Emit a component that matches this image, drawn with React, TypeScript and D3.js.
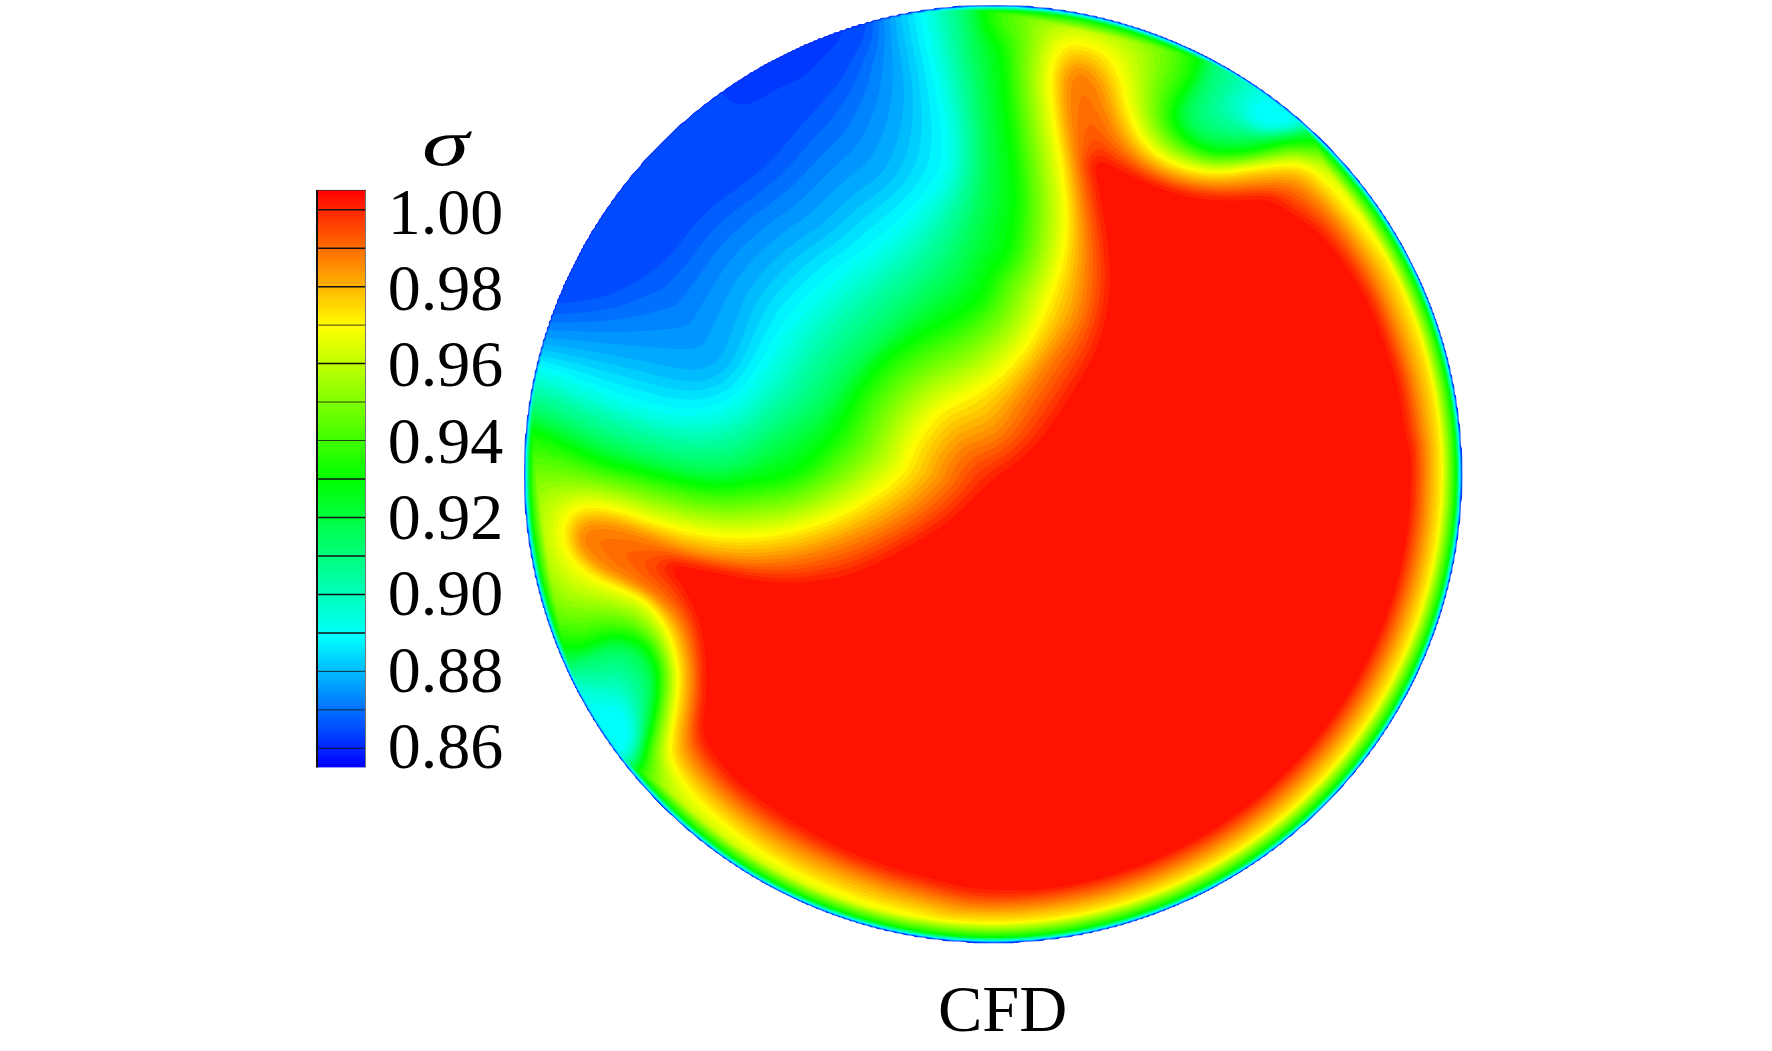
import React, { useMemo } from "react";
import * as d3 from "d3";

const WIDTH = 1772;
const HEIGHT = 1051;

// pipe section, in picture pixels
const CENTER = [993, 474];
const RADIUS = 468.5;

const tickValues = [1.0, 0.98, 0.96, 0.94, 0.92, 0.9, 0.88, 0.86];
const thinLines = [0.97, 0.95, 0.94, 0.88, 0.87, 0.86];
const contourLines = d3.range(0, 15).map((i) => +(0.86 + i * 0.01).toFixed(2));

// colour map of the legend
const colorStops = [0.855, 0.889, 0.93, 0.9695, 1.005];
const colorNames = ["#0000ff", "#00ffff", "#00ff00", "#ffff00", "#ff0000"];

// sigma against distance from the wall (thin boundary layer)
const wallDistance = [0, 1.5, 5.5, 20, 52, 70];
const wallSigma = [0.855, 0.889, 0.93, 0.9695, 1.002, 1.002];

// traced iso-lines, each closed around the region where sigma is above the level.
// where a line leaves the section it runs round the outside of the wall.
const level862 = [[730,75],[745,92],[773,80],[800,70],[817,53],[837,32],[835,-10],[830,-170],[1720,-170],[1720,474],[1720,1170],[1000,1170],[330,1170],[330,474],[640,30]];
const level865 = [[535,303],[558,305],[603,297],[637,280],[670,253],[703,213],[737,187],[770,160],[803,120],[837,83],[853,57],[867,27],[860,-30],[870,-110],[1650,-110],[1650,474],[1650,1110],[1000,1110],[380,1110],[380,474],[500,300]];
const level878 = [[520,345],[547,347],[587,353],[637,363],[680,373],[707,373],[727,357],[737,330],[753,290],[787,253],[820,230],[853,200],[887,173],[903,133],[907,93],[903,60],[897,27],[895,-25],[900,-80],[1600,-80],[1600,474],[1600,1060],[1000,1060],[420,1060],[420,474],[500,340]];
const level889 = [[515,365],[543,370],[570,380],[603,393],[637,405],[670,413],[703,413],[737,400],[763,367],[780,340],[803,310],[837,277],[870,253],[897,230],[920,207],[937,187],[947,167],[948,133],[942,100],[935,67],[928,33],[925,13],[920,-20],[1100,-40],[1280,70],[1262,100],[1250,112],[1265,128],[1295,126],[1315,110],[1360,110],[1450,190],[1530,474],[1420,860],[1000,1000],[690,900],[585,775],[618,758],[628,748],[632,730],[622,708],[605,705],[578,698],[470,620],[465,474],[490,365]];
const level915 = [[505,410],[530,415],[553,423],[620,450],[720,470],[787,433],[820,410],[853,367],[887,333],[920,303],[953,270],[977,217],[985,167],[982,100],[973,33],[970,10],[970,-20],[1100,-25],[1205,35],[1203,75],[1187,113],[1200,133],[1227,140],[1267,137],[1300,132],[1335,125],[1380,125],[1450,190],[1510,474],[1410,840],[1000,985],[700,890],[605,790],[632,768],[640,757],[648,720],[652,690],[648,670],[633,652],[613,647],[593,653],[577,658],[545,660],[490,560],[480,430]];
const level930 = [[505,425],[537,433],[570,448],[603,463],[640,472],[687,483],[720,487],[753,483],[787,477],[810,463],[833,440],[850,410],[863,387],[887,360],[920,337],[953,320],[980,300],[993,273],[1010,250],[1017,200],[1013,150],[1007,100],[1002,50],[990,33],[983,7],[983,-15],[1100,-15],[1190,20],[1197,57],[1193,77],[1177,100],[1173,120],[1187,140],[1210,152],[1240,153],[1267,148],[1293,142],[1317,142],[1345,130],[1420,190],[1490,474],[1400,820],[1000,970],[720,880],[630,810],[615,790],[640,767],[645,747],[653,720],[658,690],[657,667],[647,647],[627,637],[603,638],[583,647],[563,645],[535,640],[495,560],[490,430]];
const level970 = [[1000,377],[1030,343],[1050,300],[1063,260],[1068,217],[1063,167],[1055,117],[1052,73],[1063,48],[1083,45],[1107,57],[1120,80],[1128,110],[1140,137],[1160,157],[1187,168],[1217,172],[1250,168],[1277,165],[1300,165],[1320,177],[1343,203],[1367,233],[1393,270],[1413,317],[1430,367],[1440,427],[1442,480],[1423,630],[1317,797],[1150,903],[1000,928],[920,915],[853,897],[787,867],[737,833],[700,800],[677,770],[670,750],[675,710],[678,677],[672,643],[660,617],[643,598],[620,587],[593,575],[573,557],[565,533],[573,513],[593,507],[620,512],[653,523],[693,533],[737,538],[787,533],[837,517],[873,497],[903,473],[917,443],[940,413],[970,397]];
const level985 = [[1000,430],[1020,400],[1050,357],[1077,317],[1085,267],[1083,217],[1075,160],[1068,110],[1070,77],[1083,72],[1097,87],[1107,113],[1120,140],[1143,163],[1173,178],[1207,185],[1240,185],[1277,182],[1300,187],[1327,210],[1353,243],[1377,283],[1397,330],[1413,380],[1422,430],[1425,480],[1406,624],[1304,785],[1143,887],[1000,908],[920,895],[853,873],[787,842],[737,807],[700,770],[687,743],[690,710],[692,677],[687,643],[675,617],[653,597],[630,583],[607,570],[587,553],[580,537],[590,527],[613,527],[647,537],[687,552],[737,560],[787,558],[837,545],[880,527],[913,507],[943,480],[947,467],[963,447],[980,440]];
const level1002 = [[1097,163],[1133,177],[1167,190],[1200,198],[1233,200],[1267,200],[1287,213],[1317,233],[1343,263],[1367,300],[1383,340],[1397,383],[1405,430],[1412,480],[1392,619],[1293,774],[1138,872],[1000,890],[920,875],[853,853],[787,817],[737,780],[710,747],[702,727],[705,697],[705,663],[702,630],[693,603],[680,577],[673,565],[720,573],[760,582],[803,585],[853,577],[903,553],[947,527],[977,500],[1000,480],[1040,447],[1073,400],[1100,350],[1112,293],[1110,250],[1103,207],[1098,180]];

const levels = [0.862, 0.8646, 0.878, 0.889, 0.915, 0.93, 0.9695, 0.985, 1.002];
const levelLines = [level862, level865, level878, level889, level915, level930, level970, level985, level1002];
const baseSigma = 0.86;

const color = d3.scaleLinear<string>().domain(colorStops).range(colorNames).clamp(true);

// closed Catmull-Rom, so the traced lines come out round
function smoothClosed(pts: number[][], sub = 3) {
  const out: number[][] = [];
  const n = pts.length;
  for (let i = 0; i < n; i++) {
    const p0 = pts[(i + n - 1) % n];
    const p1 = pts[i];
    const p2 = pts[(i + 1) % n];
    const p3 = pts[(i + 2) % n];
    for (let s = 0; s < sub; s++) {
      const t = s / sub;
      const f = (a: number, b: number, c: number, d: number) =>
        0.5 * (2 * b + (c - a) * t + (2 * a - 5 * b + 4 * c - d) * t * t + (3 * b - a - 3 * c + d) * t * t * t);
      out.push([f(p0[0], p1[0], p2[0], p3[0]), f(p0[1], p1[1], p2[1], p3[1])]);
    }
  }
  return out;
}

function distanceTo(poly: number[][], x: number, y: number) {
  let best = Infinity;
  for (let i = 0, j = poly.length - 1; i < poly.length; j = i++) {
    const ax = poly[j][0], ay = poly[j][1];
    const dx = poly[i][0] - ax, dy = poly[i][1] - ay;
    let t = ((x - ax) * dx + (y - ay) * dy) / (dx * dx + dy * dy);
    t = t < 0 ? 0 : t > 1 ? 1 : t;
    const ex = ax + t * dx - x, ey = ay + t * dy - y;
    const d = ex * ex + ey * ey;
    if (d < best) best = d;
  }
  return Math.sqrt(best);
}

const CELL = 2;

function buildField() {
  const lines = levelLines.map((l) => smoothClosed(l));
  const wall = d3.scaleLinear().domain(wallDistance).range(wallSigma).clamp(true);
  const x0 = CENTER[0] - RADIUS - 4;
  const y0 = CENTER[1] - RADIUS - 4;
  const nx = Math.ceil((2 * RADIUS + 8) / CELL);
  const ny = nx;
  const data = new Float64Array(nx * ny);

  for (let j = 0; j < ny; j++) {
    for (let i = 0; i < nx; i++) {
      const x = x0 + i * CELL;
      const y = y0 + j * CELL;
      let k = lines.length - 1;
      while (k >= 0 && !d3.polygonContains(lines[k], [x, y])) k--;
      let v: number;
      if (k === lines.length - 1) {
        v = levels[k];
      } else {
        const lowLine = k >= 0 ? lines[k] : null;
        const dHigh = distanceTo(lines[k + 1], x, y);
        const dLow = lowLine ? distanceTo(lowLine, x, y) : dHigh * 3;
        const low = k >= 0 ? levels[k] : baseSigma;
        v = low + ((levels[k + 1] - low) * dLow) / (dLow + dHigh);
      }
      data[j * nx + i] = v;
    }
  }
  d3.blur2({ data, width: nx, height: ny }, 2);

  for (let j = 0; j < ny; j++) {
    for (let i = 0; i < nx; i++) {
      const d = RADIUS - Math.hypot(x0 + i * CELL - CENTER[0], y0 + j * CELL - CENTER[1]);
      if (d < 70) data[j * nx + i] = Math.min(data[j * nx + i], wall(d));
    }
  }

  // the last band stops short of the flat top, so it stays one clean red
  const thresholds = d3.range(0.8575, 1.0005, 0.0025);
  const bands = d3.contours().size([nx, ny]).thresholds(thresholds)(Array.from(data));
  const path = d3.geoPath(d3.geoIdentity().scale(CELL).translate([x0 - CELL / 2, y0 - CELL / 2]) as any);
  return bands.map((b) => ({ value: b.value, d: path(b) || "" }));
}

export default function App() {
  const bands = useMemo(buildField, []);

  const legendY = d3.scaleLinear().domain([0.86, 1.0]).range([748.3, 209.7]);
  const labelY = d3.scaleLinear().domain([0.86, 1.0]).range([768, 233.5]);
  const legendSteps = d3.range(0.855, 1.005, 0.0005);
  const serif = "'Liberation Serif', serif";

  return (
    <svg
      width={WIDTH}
      height={HEIGHT}
      style={{ position: "absolute", left: 0, top: 0, background: "#fff" }}
    >
      <circle cx={CENTER[0]} cy={CENTER[1]} r={RADIUS} fill="#0028e6" />
      <g>
        {bands.map((b) => (
          <path key={b.value} d={b.d} fill={color(b.value + 0.0025)} />
        ))}
      </g>

      <g>
        {legendSteps.map((s) => (
          <rect
            key={s}
            x={317}
            y={legendY(s + 0.0005)}
            width={48.5}
            height={2.6}
            fill={color(s)}
          />
        ))}
        {contourLines.map((s) => (
          <line
            key={s}
            x1={317}
            x2={365.5}
            y1={legendY(s)}
            y2={legendY(s)}
            stroke="#111"
            strokeWidth={thinLines.includes(s) ? 0.8 : 1.5}
          />
        ))}
        <rect x={310} y={767.4} width={60} height={4} fill="#fff" />
        <line x1={317} x2={317} y1={190} y2={767.5} stroke="#111" strokeWidth={2} />
        <line x1={365.5} x2={365.5} y1={190} y2={767.5} stroke="#777" strokeWidth={1} />
        <line x1={316} x2={366} y1={190.4} y2={190.4} stroke="#400" strokeWidth={0.8} />
      </g>

      <g fontFamily={serif} fontSize={66} fill="#000">
        {tickValues.map((v) => (
          <text key={v} x={387.7} y={labelY(v)}>
            {v.toFixed(2)}
          </text>
        ))}
        <text x={422} y={165} fontStyle="italic" textLength={47} lengthAdjust="spacingAndGlyphs">σ</text>
        <text x={938} y={1030.5} fontSize={66.5}>CFD</text>
      </g>
    </svg>
  );
}
